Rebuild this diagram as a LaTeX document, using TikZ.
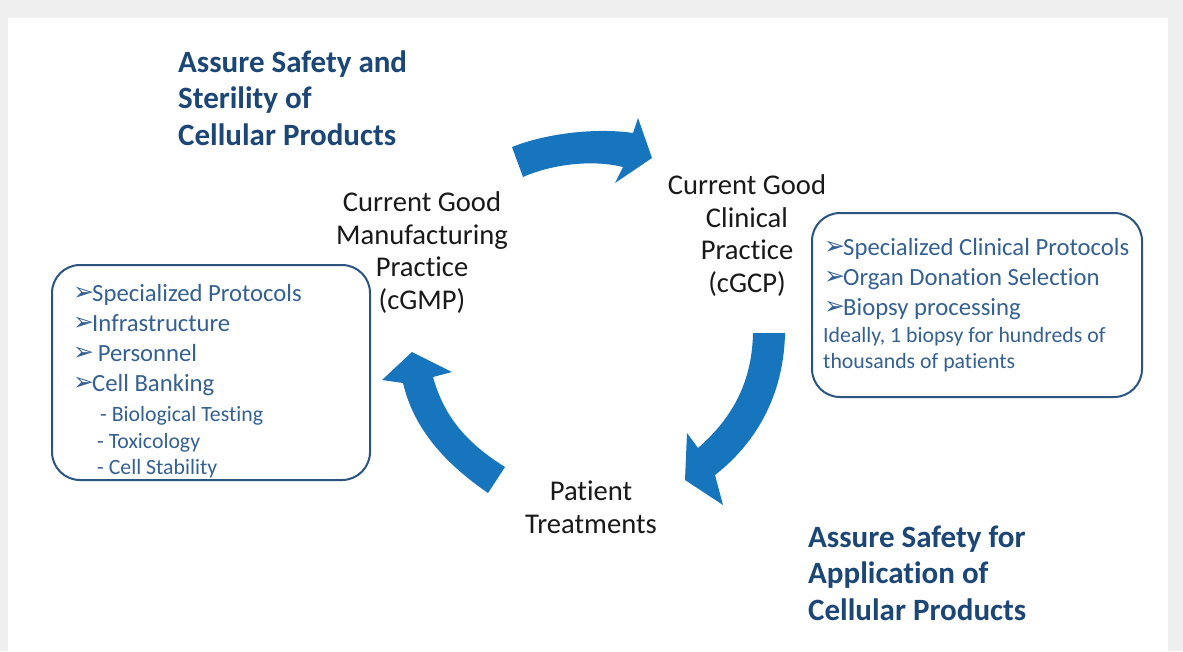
\documentclass[tikz,border=0pt]{standalone}
\usepackage{fontspec}
\setmainfont{Carlito}[RawFeature={-liga;-clig;-calt}]
\newfontfamily\symfont{DejaVu Sans}
\definecolor{arrowblue}{RGB}{22,117,189}
\definecolor{headblue}{RGB}{28,70,118}
\definecolor{boxblue}{RGB}{44,84,128}
\definecolor{boxtext}{RGB}{52,96,146}
\definecolor{framegray}{RGB}{239,239,239}
\definecolor{labeltext}{RGB}{25,25,25}
\newcommand{\bul}{\makebox[19pt][l]{\raisebox{1pt}{\symfont\fontsize{25}{25}\selectfont ➢}}}
\begin{document}
\begin{tikzpicture}[x=1pt,y=-1pt,
  heading/.style={font=\bfseries\fontsize{31}{36.5}\selectfont, text=headblue, align=left, inner sep=0pt, anchor=base west},
  label/.style={font=\fontsize{28.6}{32.5}\selectfont, text=labeltext, align=center, inner sep=0pt, anchor=base},
  item/.style={font=\fontsize{24.7}{30}\selectfont, text=boxtext, inner sep=0pt, anchor=base west},
  subitem/.style={font=\fontsize{21.8}{27}\selectfont, text=boxtext, inner sep=0pt, anchor=base west},
  listbox/.style={draw=boxblue, line width=2pt, rounded corners=28pt, inner sep=0pt},
  bigarrow/.style={fill=arrowblue, draw=none}]
\fill[framegray] (0,0) rectangle (1183,651);
\fill[white] (8,18) rectangle (1168,651);
\useasboundingbox (0,0) rectangle (1183,651);

% headings (base anchor = last line)
\node[heading] (h1) at (178,145) {Assure Safety and\\Sterility of\\Cellular Products};
\node[heading] (h2) at (808,620) {Assure Safety for\\Application of\\Cellular Products};

% cycle labels
\node[label] (gmp) at (422,309) {Current Good\\Manufacturing\\Practice\\(cGMP)};
\node[label] (gcp) at (747,292) {Current Good\\Clinical\\Practice\\(cGCP)};
\node[label] (pt) at (591,533) {Patient\\Treatments};

% boxes
\node[listbox, minimum width=318pt, minimum height=215pt] (lbox) at (211,372.5) {};
\node[listbox, minimum width=330pt, minimum height=184pt] (rbox) at (977,305) {};

% left list
\node[item] (l1) at (73,301) {\bul Specialized Protocols};
\node[item] (l2) at (73,331) {\bul Infrastructure};
\node[item] (l3) at (73,361) {\bul\ Personnel};
\node[item] (l4) at (73,391) {\bul Cell Banking};
\node[subitem] (l5) at (100,421) {- Biological Testing};
\node[subitem] (l6) at (97,448) {- Toxicology};
\node[subitem] (l7) at (97,474) {- Cell Stability};

% right list
\node[item] (r1) at (824,255) {\bul Specialized Clinical Protocols};
\node[item] (r2) at (824,285) {\bul Organ Donation Selection};
\node[item] (r3) at (824,315) {\bul Biopsy processing};
\node[subitem] (r4) at (823,342) {Ideally, 1 biopsy for hundreds of};
\node[subitem] (r5) at (823,368) {thousands of patients};

% arrows
\fill[bigarrow] (512,147) .. controls (550,132) and (600,128) .. (633,133)
  -- (638,118) -- (652,158) -- (615,183) -- (623,167)
  .. controls (595,160) and (555,163) .. (523,177) -- cycle;
\fill[bigarrow] (753,333) -- (785,333) .. controls (784,390) and (760,440) .. (715,475)
  -- (723,505) -- (685,480) -- (687,433) -- (698,448)
  .. controls (730,420) and (752,385) .. (753,333) -- cycle;
\fill[bigarrow] (488,493) .. controls (440,460) and (413,425) .. (403,383)
  -- (382,380) -- (412,352) -- (452,372) -- (433,377)
  .. controls (445,420) and (470,445) .. (505,467) -- cycle;
\end{tikzpicture}
\end{document}
